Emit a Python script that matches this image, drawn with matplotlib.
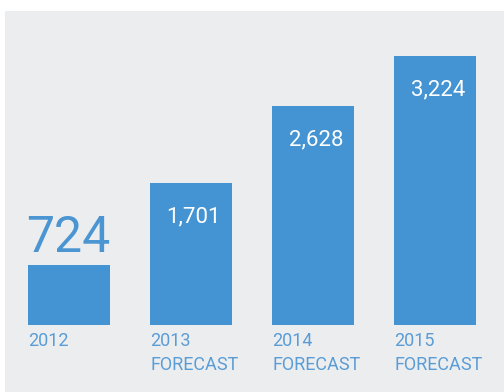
import matplotlib.pyplot as plt
from matplotlib.patches import Rectangle

# data
years = ["2012", "2013", "2014", "2015"]
subtitles = ["", "FORECAST", "FORECAST", "FORECAST"]
values = [724, 1701, 2628, 3224]
value_labels = ["724", "1,701", "2,628", "3,224"]

bar_color = "#4494d3"
text_color = "#5a9dd6"
panel_color = "#ecedef"

W, H = 504, 392
fig = plt.figure(figsize=(W / 100, H / 100), dpi=100)
fig.patch.set_facecolor("white")

# gray panel behind the chart
fig.patches.append(Rectangle((5 / W, 0), 1, (H - 11) / H, transform=fig.transFigure,
                             facecolor=panel_color, edgecolor="none", zorder=-10))

# axes in pixels: x 28..476, y bottom at 325 from top, height 314
ax = fig.add_axes([28 / W, 67 / H, 448 / W, 314 / H])
ax.set_zorder(5)
ax.patch.set_alpha(0)
for s in ax.spines.values():
    s.set_visible(False)
ax.set_xticks([])
ax.set_yticks([])

bw = 0.672
xs = list(range(len(values)))
ax.bar(xs, values, width=bw, align="edge", color=bar_color, zorder=2)
ax.set_xlim(0, xs[-1] + bw)
ax.set_ylim(0, 3760)

font = ["Roboto", "DejaVu Sans"]

for i, (v, lab) in enumerate(zip(values, value_labels)):
    if i == 0:
        ax.annotate(lab, xy=(i, v), xytext=(-1, 9), textcoords="offset points",
                    ha="left", va="baseline", fontsize=36, color="#4a95d2",
                    family=font)
    else:
        ax.annotate(lab, xy=(i + bw / 2, v), xytext=(2, -17), textcoords="offset points",
                    ha="center", va="top", fontsize=16, color="white", family=font)

for i, (y, sub) in enumerate(zip(years, subtitles)):
    txt = y if not sub else y + "\n" + sub
    ax.annotate(txt, xy=(i, 0), xytext=(0, -5), textcoords="offset points",
                ha="left", va="top", fontsize=13, color=text_color, family=font,
                linespacing=1.4, annotation_clip=False)

fig.savefig("out.png", dpi=100, facecolor=fig.get_facecolor())
